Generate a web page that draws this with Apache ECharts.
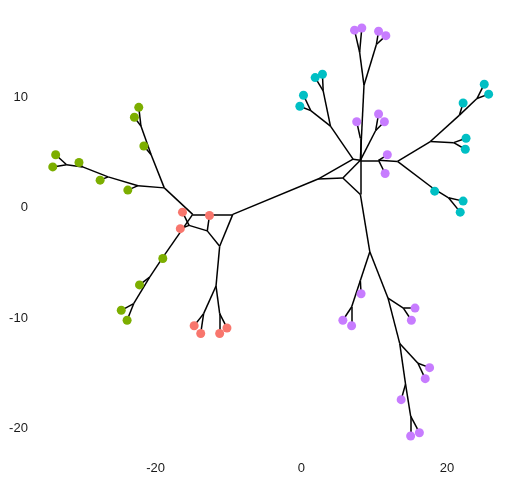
<!DOCTYPE html>
<html>
<head>
<meta charset="utf-8">
<script src="https://cdn.jsdelivr.net/npm/echarts@6/dist/echarts.min.js"></script>
<style>
html,body{margin:0;padding:0;background:#fff;}
#chart{width:518px;height:480px;}
</style>
</head>
<body>
<div id="chart"></div>
<script>
// Internal nodes of the unrooted tree (layout coordinates)
const nodeIds = ['gR','gB','gA','gC','gD','gE','gF','A','gH','gI','gJ','E','D','C','B','F','F1','F2',
  'G','H','I','J','K','tU','tV','tW','Q','Qa','Qb','R','S','T','L','M','Ma','Mb','Mc','Le','Md',
  'N','Na','Nb','O','Oa','P','Pa','Pb','Pc'];
const nodeX = [-18.8,-20.6,-22.0,-22.4,-26.5,-30.0,-32.2,-14.9,-19.0,-20.8,-23.0,-15.4,-12.9,-11.2,-9.4,-11.7,-13.4,-11.2,
  2.3,7.1,5.7,8.1,8.1,4.0,1.3,3.0,8.6,8.0,10.3,8.1,10.2,10.6,13.2,17.7,20.9,21.7,24.1,18.2,20.2,
  9.4,8.1,6.9,11.9,14.0,13.5,16.0,14.3,15.0];
const nodeY = [1.8,4.8,7.4,2.0,2.8,3.7,3.9,-0.6,-4.5,-6.3,-8.7,-1.6,-2.1,-3.5,-0.6,-7.1,-9.6,-9.6,
  2.6,4.4,2.7,4.3,1.2,7.4,8.8,10.6,11.1,14.1,14.8,6.3,7.0,4.3,4.2,6.0,5.9,8.4,9.9,1.7,0.9,
  -4.0,-6.6,-9.0,-8.2,-9.1,-12.3,-14.1,-16.0,-18.9];

// Tips
const tipIds = ['g1','g2','g3','g4','g5','g6','g7','g8','g9','g10','g11','g12',
  'r1','r2','r3','r4','r5','r6','r7',
  't1','t2','t3','t4','t5','t6','t7','t8','t9','t10','t11','t12',
  'p1','p2','p3','p4','p5','p6','p7','p8','p9','p10','p11','p12','p13','p14','p15','p16','p17','p18','p19'];
const tipX = [-22.3,-22.9,-21.6,-23.8,-27.6,-30.5,-33.7,-34.1,-19.0,-22.2,-24.7,-23.9,
  -16.3,-16.6,-12.6,-14.7,-13.8,-11.2,-10.2,
  0.3,-0.2,1.9,2.9,22.6,22.5,22.2,25.1,25.7,18.3,22.2,21.8,
  7.3,8.3,10.6,11.6,7.6,10.6,11.4,11.8,11.5,8.2,5.7,6.9,15.6,15.1,17.6,17.0,13.7,15.0,16.2];
const tipY = [9.1,8.2,5.6,1.6,2.5,4.1,4.8,3.7,-4.6,-7.0,-9.3,-10.2,
  -0.4,-1.9,-0.7,-10.7,-11.4,-11.4,-10.9,
  10.2,9.2,11.8,12.1,6.3,5.3,9.5,11.2,10.3,1.5,0.6,-0.4,
  16.1,16.3,16.0,15.6,7.8,8.5,7.8,4.8,3.1,-7.8,-10.2,-10.7,-9.1,-10.2,-14.5,-15.5,-17.4,-20.7,-20.4];
const tipGroup = ['B','B','B','B','B','B','B','B','B','B','B','B',
  'A','A','A','A','A','A','A',
  'C','C','C','C','C','C','C','C','C','C','C','C',
  'D','D','D','D','D','D','D','D','D','D','D','D','D','D','D','D','D','D','D'];
const groups = ['A','B','C','D'];
const groupColors = ['#F8766D','#7CAE00','#00BFC4','#C77CFF'];

// Branches
const edgeFrom = ['gR','gB','gA','gA','gB','gR','gC','gC','gD','gD','gE','gE','gF','gF',
  'gR','A','A','gH','gH','gI','gI','gJ','gJ',
  'B','C','D','D','E','E','C','F','F','F1','F1','F2','F2',
  'B','G','G','H','I','I','J',
  'H','tU','tV','tV','tU','tW','tW',
  'J','Q','Qa','Qa','Q','Qb','Qb',
  'J','R','J','S','S',
  'J','T','T','T',
  'L','M','Ma','Ma','M','Mb','Mb','Mc','Mc',
  'L','Le','Le','Md','Md',
  'K','N','Na','Na','Nb','Nb',
  'N','O','Oa','Oa','O','P','Pa','Pa','P','Pb','Pb','Pc','Pc'];
const edgeTo = ['gB','gA','g1','g2','g3','gC','g4','gD','g5','gE','g6','gF','g7','g8',
  'A','B','gH','g9','gI','g10','gJ','g11','g12',
  'C','D','r3','E','r1','r2','F','F1','F2','r4','r5','r6','r7',
  'G','H','I','J','J','K','K',
  'tU','tV','t1','t2','tW','t3','t4',
  'Q','Qa','p1','p2','Qb','p3','p4',
  'R','p5','S','p6','p7',
  'T','p8','p9','L',
  'M','Ma','t5','t6','Mb','t7','Mc','t8','t9',
  'Le','t10','Md','t11','t12',
  'N','Na','p10','Nb','p11','p12',
  'O','Oa','p13','p14','P','Pa','p15','p16','Pb','p17','Pc','p18','p19'];

// lookup
const pos = {};
nodeIds.forEach((id,i)=>{pos[id]=[nodeX[i],nodeY[i]];});
tipIds.forEach((id,i)=>{pos[id]=[tipX[i],tipY[i]];});

const lineData = edgeFrom.map((f,i)=>({coords:[pos[f],pos[edgeTo[i]]]}));

const scatterSeries = groups.map((g,gi)=>({
  type:'scatter',
  name:g,
  z:5,
  symbol:'circle',
  symbolSize:9,
  itemStyle:{color:groupColors[gi],opacity:1},
  data: tipIds.map((id,i)=>tipGroup[i]===g?[tipX[i],tipY[i]]:null).filter(d=>d)
}));

const labelStyle = {color:'#1a1a1a',fontSize:13,fontFamily:'Liberation Sans, Arial, sans-serif'};

const chart = echarts.init(document.getElementById('chart'),null,{renderer:'canvas'});
chart.setOption({
  animation:false,
  backgroundColor:'#ffffff',
  grid:{left:38.9,right:12.6,top:9.2,bottom:18.6},
  xAxis:{type:'value',min:-36,max:28,interval:4,
    axisLine:{show:false},axisTick:{show:false},splitLine:{show:false},
    axisLabel:Object.assign({margin:1,formatter:v=>(v%20===0?String(v):'')},labelStyle)},
  yAxis:{type:'value',min:-23,max:18,interval:1,
    axisLine:{show:false},axisTick:{show:false},splitLine:{show:false},
    axisLabel:Object.assign({margin:11,formatter:v=>(v%10===0?String(v):'')},labelStyle)},
  series:[{
    type:'lines',
    coordinateSystem:'cartesian2d',
    z:2,
    lineStyle:{color:'#000000',width:1.5,opacity:1},
    data:lineData
  }].concat(scatterSeries)
});
</script>
</body>
</html>
